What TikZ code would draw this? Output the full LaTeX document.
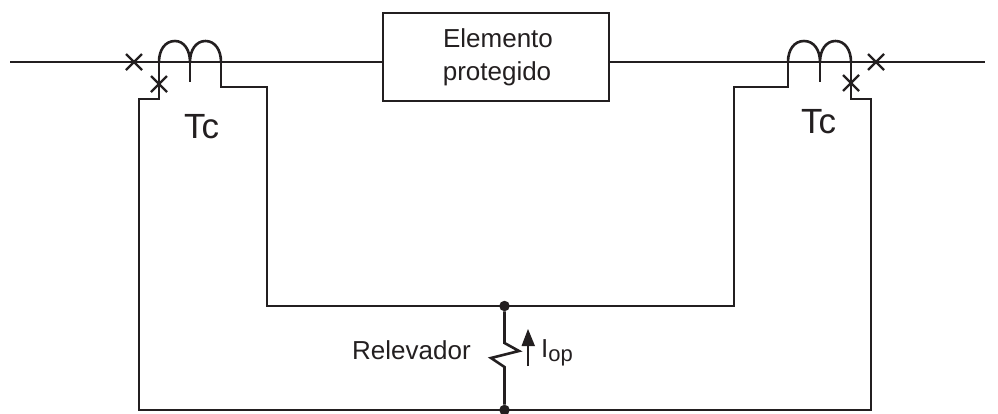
\documentclass[tikz,border=0pt]{standalone}
\usepackage{fontspec}
\setmainfont{Liberation Sans}
\definecolor{ink}{RGB}{35,31,32}
\tikzset{
  wire/.style={draw=ink,line width=2.6pt,line join=miter},
  thin wire/.style={draw=ink,line width=2.3pt},
  junction/.style={circle,fill=ink,inner sep=0pt,minimum size=10.5pt},
  lab/.style={text=ink,inner sep=0pt,font=\fontsize{26}{36}\selectfont},
  tc/.style={text=ink,inner sep=0pt,font=\fontsize{35}{40}\selectfont}
}
\begin{document}
\begin{tikzpicture}[x=1pt,y=-1pt]
\useasboundingbox (0,0) rectangle (998,413);
% named points
\coordinate (Lin) at (10,62);
\coordinate (Rout) at (985,62);
\coordinate (L1) at (159,62); \coordinate (L2) at (190,62); \coordinate (L3) at (221,62);
\coordinate (R1) at (788,62); \coordinate (R2) at (820,62); \coordinate (R3) at (851,62);
\coordinate (Jt) at (504.5,306);
% box
\node[wire,rectangle,minimum width=226pt,minimum height=88pt,inner sep=0pt] (box) at (496,57) {};
\node[lab,anchor=base] (boxa) at (498,47) {Elemento};
\node[lab,anchor=base] (boxb) at (497,80) {protegido};
% main line
\draw[wire] (Lin) -- (box.west |- Lin);
\draw[wire] (box.east |- Rout) -- (Rout);
% coils
\draw[wire] (L1) .. controls (159,50) and (165,41) .. (175,41) .. controls (184,41) and (190,50) .. (L2)
   .. controls (190,50) and (196,41) .. (205.5,41) .. controls (215,41) and (221,50) .. (L3);
\draw[wire] (R1) .. controls (788,50) and (794,41) .. (804,41) .. controls (814,41) and (820,50) .. (R2)
   .. controls (820,50) and (826,41) .. (835.5,41) .. controls (845,41) and (851,50) .. (R3);
\draw[wire] (L2) -- ++(0,20);
\draw[wire] (R2) -- ++(0,20);
% secondary wiring
\draw[wire] (L1) -- (159,99) -- (139,99) -- (139,410) -- (871,410) -- (871,99) -- (851,99) -- (R3);
\draw[wire] (L3) -- (221,87) -- (267,87) -- (267,306) -- (734,306) -- (734,87) -- (788,87) -- (R1);
% polarity crosses
\draw[thin wire] (126,54) -- (142,70) (126,70) -- (142,54);
\draw[thin wire] (151,76) -- (167,92) (151,92) -- (167,76);
\draw[thin wire] (868,54) -- (884,70) (868,70) -- (884,54);
\draw[thin wire] (843,75) -- (859,91) (843,91) -- (859,75);
% relay
\node[junction] (jt) at (Jt) {};
\node[junction] (jb) at (504.5,410) {};
\draw[wire] (jt) -- (504.5,343) -- (519,351) -- (491,358) -- (504.5,367) -- (jb);
% current arrow
\coordinate (As) at (528,366);
\coordinate (Ab) at (528,344);
\draw[wire] (As) -- (Ab);
\fill[ink] (528,329) -- (535,346) -- (521.5,346) -- cycle;
% labels
\node[tc,anchor=base] (tcl) at (201.5,138) {Tc};
\node[tc,anchor=base] (tcr) at (818.5,133) {Tc};
\node[lab,anchor=base west] (rel) at (352,359) {Relevador};
\node[lab,anchor=base west] (iop) at (541,357) {I\raisebox{-4pt}{\fontsize{22}{24}\selectfont op}};
\end{tikzpicture}
\end{document}
